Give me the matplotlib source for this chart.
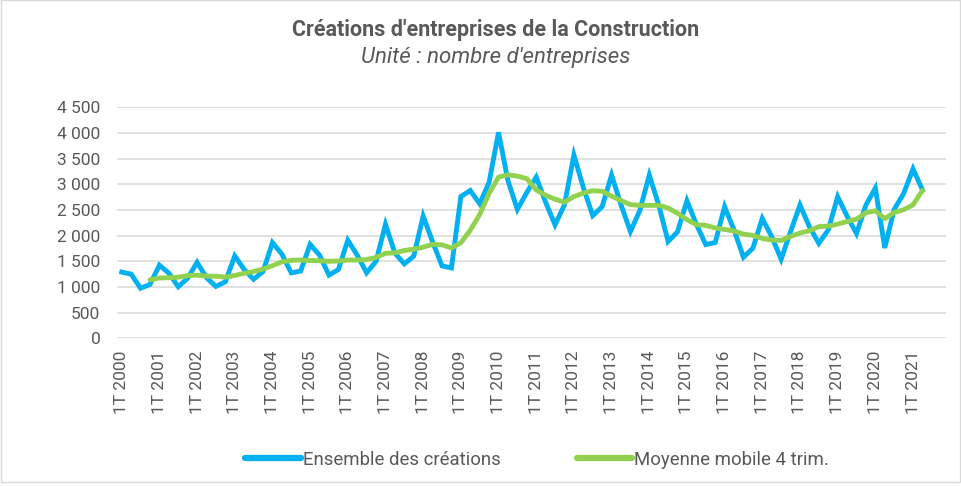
import numpy as np
import matplotlib.pyplot as plt
from matplotlib.patches import Rectangle

# Quarterly business creations, 1T 2000 .. 2T 2021
ensemble = [
    1290, 1250, 975, 1050,     # 2000
    1425, 1270, 1005, 1170,    # 2001
    1480, 1180, 1010, 1100,    # 2002
    1605, 1340, 1150, 1300,    # 2003
    1865, 1640, 1275, 1310,    # 2004
    1830, 1620, 1230, 1340,    # 2005
    1910, 1620, 1275, 1500,    # 2006
    2220, 1660, 1450, 1600,    # 2007
    2380, 1880, 1410, 1370,    # 2008
    2760, 2880, 2620, 3040,    # 2009
    4010, 3070, 2510, 2840,    # 2010
    3140, 2650, 2210, 2600,    # 2011
    3570, 2940, 2390, 2565,    # 2012
    3180, 2600, 2080, 2490,    # 2013
    3180, 2600, 1885, 2075,    # 2014
    2680, 2220, 1825, 1865,    # 2015
    2565, 2110, 1580, 1755,    # 2016
    2335, 1980, 1540, 2077,    # 2017
    2597, 2174, 1850, 2110,    # 2018
    2759, 2380, 2040, 2597,    # 2019
    2925, 1760, 2510, 2820,    # 2020
    3300, 2890,                # 2021
]

# 4-quarter moving average, starts at 4T 2000
moyenne = [
    1140,
    1175, 1180, 1190, 1220,
    1230, 1210, 1210, 1190,
    1225, 1265, 1300, 1350,
    1415, 1490, 1520, 1525,
    1515, 1510, 1500, 1505,
    1525, 1525, 1535, 1575,
    1655, 1665, 1710, 1735,
    1775, 1830, 1820, 1760,
    1860, 2105, 2410, 2825,
    3140, 3185, 3160, 3110,
    2890, 2785, 2710, 2650,
    2760, 2830, 2875, 2865,
    2770, 2685, 2605, 2590,
    2590, 2590, 2540, 2435,
    2310, 2215, 2200, 2150,
    2120, 2090, 2030, 2005,
    1945, 1915, 1905, 1985,
    2050, 2095, 2175, 2185,
    2225, 2275, 2320, 2445,
    2485, 2330, 2450, 2505,
    2600, 2880,
]

years = list(range(2000, 2022))
n_cat = 88  # 1T 2000 .. 4T 2021 on the category axis

x_ens = np.arange(len(ensemble))
x_moy = np.arange(3, 3 + len(moyenne))

txt = '#595959'
plt.rcParams['font.family'] = ['Roboto', 'DejaVu Sans']

fig = plt.figure(figsize=(9.61, 4.86), dpi=100)
ax = fig.add_axes([117 / 961, 1 - 338.3 / 486, 829 / 961, 231 / 486])

ax.plot(x_ens, ensemble, color='#00B0F0', lw=3.5, solid_joinstyle='miter',
        label='Ensemble des créations', zorder=3)
ax.plot(x_moy, moyenne, color='#92D050', lw=3.5, solid_capstyle='round',
        label='Moyenne mobile 4 trim.', zorder=4)

ax.set_xlim(-0.5, n_cat - 0.5)
ax.set_ylim(0, 4500)
ax.set_yticks(np.arange(0, 4501, 500))
ax.set_yticklabels([f'{v:,}'.replace(',', ' ') for v in range(0, 4501, 500)])
ax.set_xticks([4 * (y - 2000) for y in years])
ax.set_xticklabels([f'1T {y}' for y in years], rotation=90, va='top', ha='center')

ax.grid(axis='y', color='#D9D9D9', lw=1.1)
ax.set_axisbelow(True)
for s in ax.spines.values():
    s.set_visible(False)
ax.tick_params(axis='y', length=0, pad=12, labelsize=12.5, labelcolor=txt)
ax.tick_params(axis='x', length=0, pad=9, labelsize=12.5, labelcolor=txt)

fig.text(496 / 961, 1 - 30 / 486, "Créations d'entreprises de la Construction",
         ha='center', va='center', fontsize=15.5, fontweight='bold', color=txt)
fig.text(496 / 961, 1 - 57 / 486, "Unité : nombre d'entreprises",
         ha='center', va='center', fontsize=16, fontstyle='italic', color=txt)

leg = fig.legend(loc='center', bbox_to_anchor=(537 / 961, 1 - 460 / 486), ncol=2,
                 frameon=False, handlelength=3.0, handletextpad=0.1,
                 columnspacing=4.1, fontsize=13.4)
for t in leg.get_texts():
    t.set_color(txt)
for h in leg.legend_handles:
    h.set_linewidth(4.5)
    h.set_solid_capstyle('round')

# chart area border
fig.patches.append(Rectangle((0.5 / 961, 4 / 486), 959.5 / 961, 481.5 / 486,
                             transform=fig.transFigure, fill=False,
                             edgecolor='#D9D9D9', lw=1))

fig.savefig('out.png', dpi=100)
